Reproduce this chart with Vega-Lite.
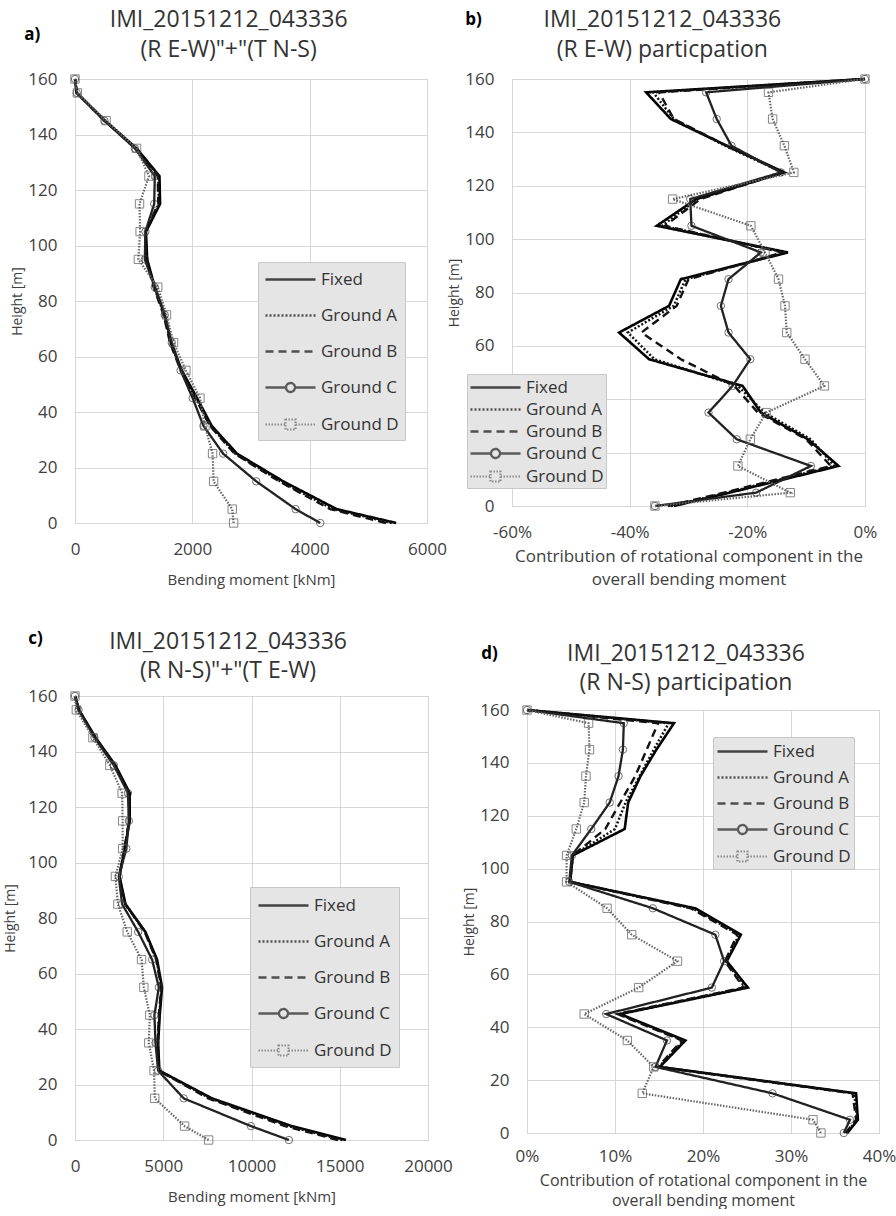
{
  "$schema": "https://vega.github.io/schema/vega-lite/v6.json",
  "background": "white",
  "padding": {"left": 3, "top": 8, "right": 0, "bottom": 0},
  "config": {
    "font": "Open Sans",
    "view": {"stroke": "#bfbfbf", "strokeWidth": 1},
    "axis": {"grid": true, "gridColor": "#d6d6d6", "domain": false, "ticks": false, "labelFlush": false, "labelFontSize": 17, "labelColor": "#404040", "titleFontSize": 14, "titleFontWeight": "normal", "titleColor": "#404040", "labelPadding": 18, "titlePadding": 3},
    "axisX": {"titleFontSize": 15, "titlePadding": 15},
    "title": {"fontSize": 23, "fontWeight": "normal", "color": "#333333", "lineHeight": 30, "frame": "bounds", "offset": 8, "subtitleFontSize": 23, "subtitleColor": "#333333", "subtitlePadding": 6, "subtitleFont": "Open Sans"},
    "legend": {"fillColor": "#e5e5e5", "strokeColor": "#c8c8c8", "padding": 6, "labelFontSize": 17, "labelColor": "#333333", "symbolSize": 400, "labelOffset": 34}
  },
  "datasets": {
    "a": [
      {"h": 160, "Fixed": 0, "Ground A": 0, "Ground B": 0, "Ground C": 0, "Ground D": 0},
      {"h": 155, "Fixed": 30, "Ground A": 30, "Ground B": 30, "Ground C": 30, "Ground D": 40},
      {"h": 145, "Fixed": 510, "Ground A": 505, "Ground B": 500, "Ground C": 500, "Ground D": 530},
      {"h": 135, "Fixed": 1050, "Ground A": 1040, "Ground B": 1040, "Ground C": 1020, "Ground D": 1050},
      {"h": 125, "Fixed": 1440, "Ground A": 1420, "Ground B": 1410, "Ground C": 1360, "Ground D": 1260},
      {"h": 115, "Fixed": 1450, "Ground A": 1430, "Ground B": 1420, "Ground C": 1350, "Ground D": 1100},
      {"h": 105, "Fixed": 1210, "Ground A": 1200, "Ground B": 1200, "Ground C": 1200, "Ground D": 1110},
      {"h": 95, "Fixed": 1230, "Ground A": 1220, "Ground B": 1210, "Ground C": 1190, "Ground D": 1080},
      {"h": 85, "Fixed": 1360, "Ground A": 1350, "Ground B": 1340, "Ground C": 1360, "Ground D": 1410},
      {"h": 75, "Fixed": 1530, "Ground A": 1520, "Ground B": 1510, "Ground C": 1530, "Ground D": 1560},
      {"h": 65, "Fixed": 1640, "Ground A": 1630, "Ground B": 1620, "Ground C": 1650, "Ground D": 1680},
      {"h": 55, "Fixed": 1820, "Ground A": 1810, "Ground B": 1800, "Ground C": 1800, "Ground D": 1890},
      {"h": 45, "Fixed": 2080, "Ground A": 2060, "Ground B": 2050, "Ground C": 2005, "Ground D": 2130},
      {"h": 35, "Fixed": 2330, "Ground A": 2310, "Ground B": 2300, "Ground C": 2190, "Ground D": 2215},
      {"h": 25, "Fixed": 2760, "Ground A": 2730, "Ground B": 2720, "Ground C": 2525, "Ground D": 2345},
      {"h": 15, "Fixed": 3550, "Ground A": 3500, "Ground B": 3480, "Ground C": 3090, "Ground D": 2363},
      {"h": 5, "Fixed": 4460, "Ground A": 4400, "Ground B": 4350, "Ground C": 3760, "Ground D": 2680},
      {"h": 0, "Fixed": 5475, "Ground A": 5400, "Ground B": 5300, "Ground C": 4180, "Ground D": 2704}
    ],
    "b": [
      {"h": 160, "Fixed": 0, "Ground A": 0, "Ground B": 0, "Ground C": 0, "Ground D": 0},
      {"h": 155, "Fixed": -0.372, "Ground A": -0.36, "Ground B": -0.35, "Ground C": -0.27, "Ground D": -0.164},
      {"h": 145, "Fixed": -0.33, "Ground A": -0.325, "Ground B": -0.325, "Ground C": -0.252, "Ground D": -0.157},
      {"h": 135, "Fixed": -0.235, "Ground A": -0.238, "Ground B": -0.235, "Ground C": -0.227, "Ground D": -0.137},
      {"h": 125, "Fixed": -0.137, "Ground A": -0.14, "Ground B": -0.14, "Ground C": -0.143, "Ground D": -0.121},
      {"h": 115, "Fixed": -0.287, "Ground A": -0.285, "Ground B": -0.28, "Ground C": -0.297, "Ground D": -0.327},
      {"h": 105, "Fixed": -0.354, "Ground A": -0.345, "Ground B": -0.34, "Ground C": -0.295, "Ground D": -0.194},
      {"h": 95, "Fixed": -0.131, "Ground A": -0.135, "Ground B": -0.14, "Ground C": -0.177, "Ground D": -0.17},
      {"h": 85, "Fixed": -0.313, "Ground A": -0.305, "Ground B": -0.3, "Ground C": -0.232, "Ground D": -0.147},
      {"h": 75, "Fixed": -0.333, "Ground A": -0.325, "Ground B": -0.32, "Ground C": -0.245, "Ground D": -0.136},
      {"h": 65, "Fixed": -0.418, "Ground A": -0.403, "Ground B": -0.38, "Ground C": -0.232, "Ground D": -0.133},
      {"h": 55, "Fixed": -0.367, "Ground A": -0.358, "Ground B": -0.313, "Ground C": -0.195, "Ground D": -0.102},
      {"h": 45, "Fixed": -0.208, "Ground A": -0.216, "Ground B": -0.222, "Ground C": -0.225, "Ground D": -0.069},
      {"h": 35, "Fixed": -0.177, "Ground A": -0.171, "Ground B": -0.182, "Ground C": -0.266, "Ground D": -0.168},
      {"h": 25, "Fixed": -0.097, "Ground A": -0.092, "Ground B": -0.1, "Ground C": -0.218, "Ground D": -0.195},
      {"h": 15, "Fixed": -0.045, "Ground A": -0.052, "Ground B": -0.058, "Ground C": -0.092, "Ground D": -0.216},
      {"h": 5, "Fixed": -0.23, "Ground A": -0.235, "Ground B": -0.24, "Ground C": -0.185, "Ground D": -0.127},
      {"h": 0, "Fixed": -0.325, "Ground A": -0.33, "Ground B": -0.335, "Ground C": -0.357, "Ground D": -0.357}
    ],
    "c": [
      {"h": 160, "Fixed": 0, "Ground A": 0, "Ground B": 0, "Ground C": 0, "Ground D": 0},
      {"h": 155, "Fixed": 225, "Ground A": 220, "Ground B": 215, "Ground C": 200, "Ground D": 75},
      {"h": 145, "Fixed": 1165, "Ground A": 1150, "Ground B": 1140, "Ground C": 1100, "Ground D": 1015},
      {"h": 135, "Fixed": 2290, "Ground A": 2270, "Ground B": 2250, "Ground C": 2200, "Ground D": 1975},
      {"h": 125, "Fixed": 3100, "Ground A": 3080, "Ground B": 3060, "Ground C": 3000, "Ground D": 2670},
      {"h": 115, "Fixed": 3100, "Ground A": 3080, "Ground B": 3060, "Ground C": 3050, "Ground D": 2700},
      {"h": 105, "Fixed": 2820, "Ground A": 2810, "Ground B": 2800, "Ground C": 2910, "Ground D": 2700},
      {"h": 95, "Fixed": 2520, "Ground A": 2510, "Ground B": 2500, "Ground C": 2480, "Ground D": 2290},
      {"h": 85, "Fixed": 2860, "Ground A": 2850, "Ground B": 2840, "Ground C": 2670, "Ground D": 2430},
      {"h": 75, "Fixed": 3990, "Ground A": 3970, "Ground B": 3950, "Ground C": 3580, "Ground D": 2960},
      {"h": 65, "Fixed": 4650, "Ground A": 4620, "Ground B": 4600, "Ground C": 4370, "Ground D": 3770},
      {"h": 55, "Fixed": 4930, "Ground A": 4900, "Ground B": 4880, "Ground C": 4750, "Ground D": 3900},
      {"h": 45, "Fixed": 4800, "Ground A": 4780, "Ground B": 4760, "Ground C": 4500, "Ground D": 4240},
      {"h": 35, "Fixed": 4710, "Ground A": 4690, "Ground B": 4680, "Ground C": 4560, "Ground D": 4180},
      {"h": 25, "Fixed": 4780, "Ground A": 4760, "Ground B": 4740, "Ground C": 4710, "Ground D": 4480},
      {"h": 15, "Fixed": 7760, "Ground A": 7650, "Ground B": 7550, "Ground C": 6160, "Ground D": 4520},
      {"h": 5, "Fixed": 12280, "Ground A": 12100, "Ground B": 11900, "Ground C": 9970, "Ground D": 6210},
      {"h": 0, "Fixed": 15350, "Ground A": 15150, "Ground B": 14900, "Ground C": 12120, "Ground D": 7570}
    ],
    "d": [
      {"h": 160, "Fixed": 0, "Ground A": 0, "Ground B": 0, "Ground C": 0, "Ground D": 0},
      {"h": 155, "Fixed": 0.167, "Ground A": 0.161, "Ground B": 0.149, "Ground C": 0.11, "Ground D": 0.07},
      {"h": 145, "Fixed": 0.147, "Ground A": 0.144, "Ground B": 0.136, "Ground C": 0.109, "Ground D": 0.071},
      {"h": 135, "Fixed": 0.129, "Ground A": 0.128, "Ground B": 0.123, "Ground C": 0.104, "Ground D": 0.067},
      {"h": 125, "Fixed": 0.115, "Ground A": 0.112, "Ground B": 0.106, "Ground C": 0.094, "Ground D": 0.065},
      {"h": 115, "Fixed": 0.111, "Ground A": 0.1, "Ground B": 0.089, "Ground C": 0.073, "Ground D": 0.056},
      {"h": 105, "Fixed": 0.052, "Ground A": 0.052, "Ground B": 0.052, "Ground C": 0.051, "Ground D": 0.045},
      {"h": 95, "Fixed": 0.049, "Ground A": 0.049, "Ground B": 0.049, "Ground C": 0.048, "Ground D": 0.045},
      {"h": 85, "Fixed": 0.191, "Ground A": 0.188, "Ground B": 0.186, "Ground C": 0.143, "Ground D": 0.091},
      {"h": 75, "Fixed": 0.243, "Ground A": 0.241, "Ground B": 0.239, "Ground C": 0.214, "Ground D": 0.119},
      {"h": 65, "Fixed": 0.227, "Ground A": 0.226, "Ground B": 0.225, "Ground C": 0.224, "Ground D": 0.171},
      {"h": 55, "Fixed": 0.251, "Ground A": 0.248, "Ground B": 0.246, "Ground C": 0.21, "Ground D": 0.127},
      {"h": 45, "Fixed": 0.106, "Ground A": 0.104, "Ground B": 0.103, "Ground C": 0.09, "Ground D": 0.065},
      {"h": 35, "Fixed": 0.18, "Ground A": 0.178, "Ground B": 0.176, "Ground C": 0.159, "Ground D": 0.114},
      {"h": 25, "Fixed": 0.151, "Ground A": 0.15, "Ground B": 0.149, "Ground C": 0.146, "Ground D": 0.144},
      {"h": 15, "Fixed": 0.374, "Ground A": 0.372, "Ground B": 0.37, "Ground C": 0.279, "Ground D": 0.131},
      {"h": 5, "Fixed": 0.376, "Ground A": 0.375, "Ground B": 0.374, "Ground C": 0.367, "Ground D": 0.325},
      {"h": 0, "Fixed": 0.364, "Ground A": 0.363, "Ground B": 0.362, "Ground C": 0.36, "Ground D": 0.334}
    ]
  },
  "spacing": 41,
  "resolve": {"scale": {"color": "independent", "strokeDash": "independent", "strokeWidth": "independent", "shape": "independent"}, "legend": {"color": "independent", "strokeDash": "independent", "strokeWidth": "independent", "shape": "independent"}},
  "vconcat": [
    {
      "spacing": 0,
      "resolve": {"scale": {"color": "independent", "strokeDash": "independent", "strokeWidth": "independent", "shape": "independent"}, "legend": {"color": "independent", "strokeDash": "independent", "strokeWidth": "independent", "shape": "independent"}},
      "hconcat": [
        {
          "title": {"text": "a)", "anchor": "start", "frame": "bounds", "fontSize": 17, "fontWeight": "bold", "color": "#000000", "offset": -35, "dx": 14},
          "resolve": {"scale": {"color": "independent", "strokeDash": "independent", "strokeWidth": "independent", "shape": "independent"}, "legend": {"color": "independent", "strokeDash": "independent", "strokeWidth": "independent", "shape": "independent"}},
          "vconcat": [
            {
              "width": 352, "height": 444,
              "title": {"text": ["IMI_20151212_043336", "(R E-W)\"+\"(T N-S)"]},
              "data": {"name": "a"},
              "transform": [{"fold": ["Fixed", "Ground A", "Ground B", "Ground C", "Ground D"], "as": ["series", "v"]}],
              "encoding": {
                "x": {"field": "v", "type": "quantitative", "scale": {"domain": [0, 6000]}, "axis": {"values": [0, 2000, 4000, 6000], "format": "d", "title": "Bending moment [kNm]"}},
                "y": {"field": "h", "type": "quantitative", "scale": {"domain": [0, 160]}, "axis": {"values": [0, 20, 40, 60, 80, 100, 120, 140, 160], "title": "Height [m]"}}
              },
              "layer": [
                {
                  "mark": {"type": "line"},
                  "encoding": {
                    "order": {"field": "h", "type": "quantitative"},
                    "color": {"field": "series", "type": "nominal", "scale": {"domain": ["Fixed", "Ground A", "Ground B", "Ground C", "Ground D"], "range": ["#000000", "#111111", "#111111", "#222222", "#666666"]}, "legend": {"title": null, "orient": "none", "legendX": 183, "legendY": 183, "rowPadding": 16, "padding": 6}},
                    "strokeDash": {"field": "series", "type": "nominal", "scale": {"domain": ["Fixed", "Ground A", "Ground B", "Ground C", "Ground D"], "range": [[1, 0], [2, 2], [8, 5], [1, 0], [1.5, 1.5]]}, "legend": {"title": null, "orient": "none", "legendX": 183, "legendY": 183, "rowPadding": 16, "padding": 6}},
                    "strokeWidth": {"field": "series", "type": "nominal", "scale": {"domain": ["Fixed", "Ground A", "Ground B", "Ground C", "Ground D"], "range": [2.6, 2.2, 2.4, 1.2, 1]}, "legend": {"title": null, "orient": "none", "legendX": 183, "legendY": 183, "rowPadding": 16, "padding": 6}}
                  }
                },
                {"transform": [{"filter": "datum.series === 'Ground C'"}], "mark": {"type": "point", "shape": "circle", "filled": false, "size": 55, "color": "#333333", "strokeWidth": 1}},
                {"transform": [{"filter": "datum.series === 'Ground D'"}], "mark": {"type": "point", "shape": "square", "filled": false, "size": 70, "color": "#555555", "strokeWidth": 1}},
                {
                  "transform": [{"filter": "false"}],
                  "mark": {"type": "point", "filled": false},
                  "encoding": {"shape": {"field": "series", "type": "nominal", "scale": {"domain": ["Fixed", "Ground A", "Ground B", "Ground C", "Ground D"], "range": ["M-1,0H4", "M-1,0H4", "M-1,0H4", "M-1,0H1.05M1.95,0H4M1.95,0A0.45,0.45,0,1,1,1.05,0A0.45,0.45,0,1,1,1.95,0", "M-1,0H1M2,0H4M1,-0.5H2V0.5H1Z"]}, "legend": {"title": null, "orient": "none", "legendX": 183, "legendY": 183, "rowPadding": 16, "padding": 6}}}
                }
              ]
            }
          ]
        },
        {
          "title": {"text": "b)", "anchor": "start", "frame": "bounds", "fontSize": 17, "fontWeight": "bold", "color": "#000000", "offset": -20, "dx": 18},
          "resolve": {"scale": {"color": "independent", "strokeDash": "independent", "strokeWidth": "independent", "shape": "independent"}, "legend": {"color": "independent", "strokeDash": "independent", "strokeWidth": "independent", "shape": "independent"}},
          "vconcat": [
            {
              "width": 353, "height": 427,
              "title": {"text": ["IMI_20151212_043336", "(R E-W) particpation"]},
              "data": {"name": "b"},
              "transform": [{"fold": ["Fixed", "Ground A", "Ground B", "Ground C", "Ground D"], "as": ["series", "v"]}],
              "encoding": {
                "x": {"field": "v", "type": "quantitative", "scale": {"domain": [-0.6, 0]}, "axis": {"values": [-0.6, -0.4, -0.2, 0], "labelExpr": "(datum.value < 0 ? '-' : '') + format(abs(datum.value), '.0%')", "title": ["Contribution of rotational component in the", "overall bending moment"], "titleFontSize": 17, "titleLineHeight": 23, "titlePadding": 8}},
                "y": {"field": "h", "type": "quantitative", "scale": {"domain": [0, 160]}, "axis": {"values": [0, 20, 40, 60, 80, 100, 120, 140, 160], "title": "Height [m]"}}
              },
              "layer": [
                {
                  "mark": {"type": "line"},
                  "encoding": {
                    "order": {"field": "h", "type": "quantitative"},
                    "color": {"field": "series", "type": "nominal", "scale": {"domain": ["Fixed", "Ground A", "Ground B", "Ground C", "Ground D"], "range": ["#000000", "#111111", "#111111", "#222222", "#666666"]}, "legend": {"title": null, "orient": "none", "legendX": -45, "legendY": 295, "rowPadding": 2, "padding": 2}},
                    "strokeDash": {"field": "series", "type": "nominal", "scale": {"domain": ["Fixed", "Ground A", "Ground B", "Ground C", "Ground D"], "range": [[1, 0], [2, 2], [8, 5], [1, 0], [1.5, 1.5]]}, "legend": {"title": null, "orient": "none", "legendX": -45, "legendY": 295, "rowPadding": 2, "padding": 2}},
                    "strokeWidth": {"field": "series", "type": "nominal", "scale": {"domain": ["Fixed", "Ground A", "Ground B", "Ground C", "Ground D"], "range": [2.6, 2.2, 2.4, 1.2, 1]}, "legend": {"title": null, "orient": "none", "legendX": -45, "legendY": 295, "rowPadding": 2, "padding": 2}}
                  }
                },
                {"transform": [{"filter": "datum.series === 'Ground C'"}], "mark": {"type": "point", "shape": "circle", "filled": false, "size": 55, "color": "#333333", "strokeWidth": 1}},
                {"transform": [{"filter": "datum.series === 'Ground D'"}], "mark": {"type": "point", "shape": "square", "filled": false, "size": 70, "color": "#555555", "strokeWidth": 1}},
                {
                  "transform": [{"filter": "false"}],
                  "mark": {"type": "point", "filled": false},
                  "encoding": {"shape": {"field": "series", "type": "nominal", "scale": {"domain": ["Fixed", "Ground A", "Ground B", "Ground C", "Ground D"], "range": ["M-1,0H4", "M-1,0H4", "M-1,0H4", "M-1,0H1.05M1.95,0H4M1.95,0A0.45,0.45,0,1,1,1.05,0A0.45,0.45,0,1,1,1.95,0", "M-1,0H1M2,0H4M1,-0.5H2V0.5H1Z"]}, "legend": {"title": null, "orient": "none", "legendX": -45, "legendY": 295, "rowPadding": 2, "padding": 2}}}
                }
              ]
            }
          ]
        }
      ]
    },
    {
      "spacing": 9,
      "resolve": {"scale": {"color": "independent", "strokeDash": "independent", "strokeWidth": "independent", "shape": "independent"}, "legend": {"color": "independent", "strokeDash": "independent", "strokeWidth": "independent", "shape": "independent"}},
      "hconcat": [
        {
          "title": {"text": "c)", "anchor": "start", "frame": "bounds", "fontSize": 17, "fontWeight": "bold", "color": "#000000", "offset": -17, "dx": 25},
          "resolve": {"scale": {"color": "independent", "strokeDash": "independent", "strokeWidth": "independent", "shape": "independent"}, "legend": {"color": "independent", "strokeDash": "independent", "strokeWidth": "independent", "shape": "independent"}},
          "vconcat": [
            {
              "width": 353, "height": 444,
              "title": {"text": "IMI_20151212_043336", "subtitle": "(R N-S)\"+\"(T E-W)", "offset": 4},
              "data": {"name": "c"},
              "transform": [{"fold": ["Fixed", "Ground A", "Ground B", "Ground C", "Ground D"], "as": ["series", "v"]}],
              "encoding": {
                "x": {"field": "v", "type": "quantitative", "scale": {"domain": [0, 20000]}, "axis": {"values": [0, 5000, 10000, 15000, 20000], "format": "d", "title": "Bending moment [kNm]"}},
                "y": {"field": "h", "type": "quantitative", "scale": {"domain": [0, 160]}, "axis": {"values": [0, 20, 40, 60, 80, 100, 120, 140, 160], "title": "Height [m]", "titlePadding": 10}}
              },
              "layer": [
                {
                  "mark": {"type": "line"},
                  "encoding": {
                    "order": {"field": "h", "type": "quantitative"},
                    "color": {"field": "series", "type": "nominal", "scale": {"domain": ["Fixed", "Ground A", "Ground B", "Ground C", "Ground D"], "range": ["#000000", "#111111", "#111111", "#222222", "#666666"]}, "legend": {"title": null, "orient": "none", "legendX": 175, "legendY": 191, "rowPadding": 16, "padding": 7}},
                    "strokeDash": {"field": "series", "type": "nominal", "scale": {"domain": ["Fixed", "Ground A", "Ground B", "Ground C", "Ground D"], "range": [[1, 0], [2, 2], [8, 5], [1, 0], [1.5, 1.5]]}, "legend": {"title": null, "orient": "none", "legendX": 175, "legendY": 191, "rowPadding": 16, "padding": 7}},
                    "strokeWidth": {"field": "series", "type": "nominal", "scale": {"domain": ["Fixed", "Ground A", "Ground B", "Ground C", "Ground D"], "range": [2.6, 2.2, 2.4, 1.2, 1]}, "legend": {"title": null, "orient": "none", "legendX": 175, "legendY": 191, "rowPadding": 16, "padding": 7}}
                  }
                },
                {"transform": [{"filter": "datum.series === 'Ground C'"}], "mark": {"type": "point", "shape": "circle", "filled": false, "size": 55, "color": "#333333", "strokeWidth": 1}},
                {"transform": [{"filter": "datum.series === 'Ground D'"}], "mark": {"type": "point", "shape": "square", "filled": false, "size": 70, "color": "#555555", "strokeWidth": 1}},
                {
                  "transform": [{"filter": "false"}],
                  "mark": {"type": "point", "filled": false},
                  "encoding": {"shape": {"field": "series", "type": "nominal", "scale": {"domain": ["Fixed", "Ground A", "Ground B", "Ground C", "Ground D"], "range": ["M-1,0H4", "M-1,0H4", "M-1,0H4", "M-1,0H1.05M1.95,0H4M1.95,0A0.45,0.45,0,1,1,1.05,0A0.45,0.45,0,1,1,1.95,0", "M-1,0H1M2,0H4M1,-0.5H2V0.5H1Z"]}, "legend": {"title": null, "orient": "none", "legendX": 175, "legendY": 191, "rowPadding": 16, "padding": 7}}}
                }
              ]
            }
          ]
        },
        {
          "title": {"text": "d)", "anchor": "start", "frame": "bounds", "fontSize": 17, "fontWeight": "bold", "color": "#000000", "offset": -20, "dx": 19},
          "spacing": 3,
          "resolve": {"scale": {"color": "independent", "strokeDash": "independent", "strokeWidth": "independent", "shape": "independent"}, "legend": {"color": "independent", "strokeDash": "independent", "strokeWidth": "independent", "shape": "independent"}},
          "vconcat": [
            {
              "width": 352, "height": 1,
              "view": {"stroke": null},
              "title": {"text": "IMI_20151212_043336", "subtitle": "(R N-S) participation", "offset": 1, "dx": -17},
              "data": {"values": []},
              "mark": {"type": "point"}
            },
            {
              "width": 352, "height": 423,
              "data": {"name": "d"},
              "transform": [{"fold": ["Fixed", "Ground A", "Ground B", "Ground C", "Ground D"], "as": ["series", "v"]}],
              "encoding": {
                "x": {"field": "v", "type": "quantitative", "scale": {"domain": [0, 0.4]}, "axis": {"values": [0, 0.1, 0.2, 0.3, 0.4], "format": ".0%", "labelPadding": 15, "title": ["Contribution of rotational component in the", "overall bending moment"], "titleFontSize": 16, "titleLineHeight": 20, "titlePadding": 8}},
                "y": {"field": "h", "type": "quantitative", "scale": {"domain": [0, 160]}, "axis": {"values": [0, 20, 40, 60, 80, 100, 120, 140, 160], "title": "Height [m]"}}
              },
              "layer": [
                {
                  "mark": {"type": "line"},
                  "encoding": {
                    "order": {"field": "h", "type": "quantitative"},
                    "color": {"field": "series", "type": "nominal", "scale": {"domain": ["Fixed", "Ground A", "Ground B", "Ground C", "Ground D"], "range": ["#000000", "#111111", "#111111", "#222222", "#666666"]}, "legend": {"title": null, "orient": "none", "legendX": 186, "legendY": 27, "rowPadding": 6, "padding": 3}},
                    "strokeDash": {"field": "series", "type": "nominal", "scale": {"domain": ["Fixed", "Ground A", "Ground B", "Ground C", "Ground D"], "range": [[1, 0], [2, 2], [8, 5], [1, 0], [1.5, 1.5]]}, "legend": {"title": null, "orient": "none", "legendX": 186, "legendY": 27, "rowPadding": 6, "padding": 3}},
                    "strokeWidth": {"field": "series", "type": "nominal", "scale": {"domain": ["Fixed", "Ground A", "Ground B", "Ground C", "Ground D"], "range": [2.6, 2.2, 2.4, 1.2, 1]}, "legend": {"title": null, "orient": "none", "legendX": 186, "legendY": 27, "rowPadding": 6, "padding": 3}}
                  }
                },
                {"transform": [{"filter": "datum.series === 'Ground C'"}], "mark": {"type": "point", "shape": "circle", "filled": false, "size": 55, "color": "#333333", "strokeWidth": 1}},
                {"transform": [{"filter": "datum.series === 'Ground D'"}], "mark": {"type": "point", "shape": "square", "filled": false, "size": 70, "color": "#555555", "strokeWidth": 1}},
                {
                  "transform": [{"filter": "false"}],
                  "mark": {"type": "point", "filled": false},
                  "encoding": {"shape": {"field": "series", "type": "nominal", "scale": {"domain": ["Fixed", "Ground A", "Ground B", "Ground C", "Ground D"], "range": ["M-1,0H4", "M-1,0H4", "M-1,0H4", "M-1,0H1.05M1.95,0H4M1.95,0A0.45,0.45,0,1,1,1.05,0A0.45,0.45,0,1,1,1.95,0", "M-1,0H1M2,0H4M1,-0.5H2V0.5H1Z"]}, "legend": {"title": null, "orient": "none", "legendX": 186, "legendY": 27, "rowPadding": 6, "padding": 3}}}
                }
              ]
            }
          ]
        }
      ]
    }
  ]
}
